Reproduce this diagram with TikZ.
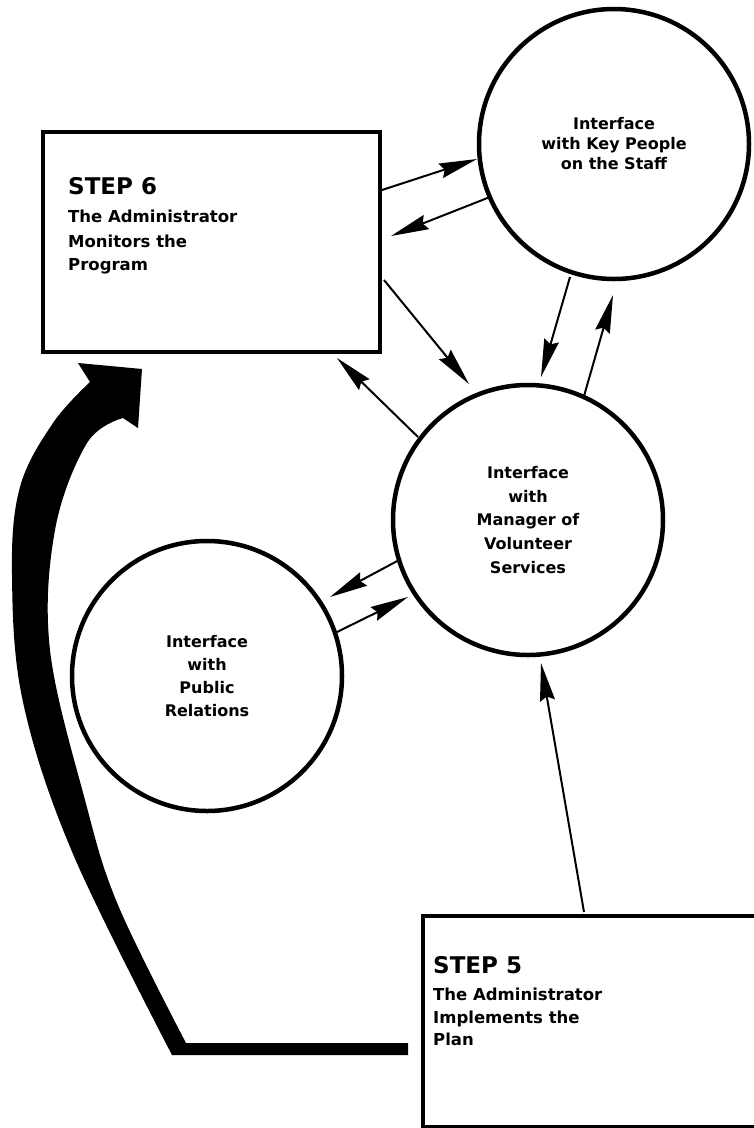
\documentclass[tikz,border=0pt]{standalone}
\usepackage{fontspec}
\setmainfont{DejaVu Sans}
\usetikzlibrary{arrows.meta,calc}
\begin{document}
\begin{tikzpicture}[x=1pt,y=-1pt,
  stepbox/.style={draw, line width=4pt, rectangle, anchor=north west, inner sep=0pt},
  bubble/.style={draw, circle, line width=4.5pt, minimum size=270pt, inner sep=0pt, align=center},
  link/.style={line width=2pt, -{Stealth[length=38pt,width=15pt,inset=4pt]}},
  headtext/.style={anchor=base west, inner sep=0pt, font=\fontsize{23}{28}\selectfont\bfseries},
  bodytext/.style={anchor=base west, inner sep=0pt, font=\fontsize{16.5}{24}\selectfont\bfseries}
]
\useasboundingbox (0,0) rectangle (753,1128);

% boxes
\node[stepbox, minimum width=337pt, minimum height=220pt] (s6) at (41,130) {};
\node[stepbox, minimum width=333pt, minimum height=211pt] (s5) at (421,914) {};

\node[headtext] (s6h) at (68,194) {STEP 6};
\node[bodytext] (s6a) at (68,222) {The Administrator};
\node[bodytext] (s6b) at (68,247) {Monitors the};
\node[bodytext] (s6c) at (68,270) {Program};

\node[headtext] (s5h) at (433,973) {STEP 5};
\node[bodytext] (s5a) at (433,1000) {The Administrator};
\node[bodytext] (s5b) at (433,1023) {Implements the};
\node[bodytext] (s5c) at (433,1045) {Plan};

% circles
\node[bubble, font=\fontsize{16}{20}\selectfont\bfseries] (kp) at (614,144)
  {Interface\\with Key People\\on the Staff};
\node[bubble, font=\fontsize{16}{23.7}\selectfont\bfseries] (mgr) at (528,520)
  {Interface\\with\\Manager of\\Volunteer\\Services};
\node[bubble, font=\fontsize{16}{23.3}\selectfont\bfseries] (pr) at (207,676)
  {Interface\\with\\Public\\Relations};

% thin arrows
\draw[link] ($(s6.north east)+(0,60)$) -- ($(kp)+(-137,15)$);
\draw[link] ($(kp)+(-124,53)$) -- ($(s6.north east)+(9,106)$);
\draw[link] ($(s6.north east)+(2,150)$) -- ($(mgr)+(-59,-136)$);
\draw[link] ($(mgr)+(-110,-83)$) -- ($(s6.north east)+(-45,228)$);
\draw[link] ($(kp)+(-44,133)$) -- ($(mgr)+(13,-143)$);
\draw[link] ($(mgr)+(56,-124)$) -- ($(kp)+(-1,151)$);
\draw[link] ($(mgr)+(-127,39)$) -- ($(pr)+(123,-79)$);
\draw[link] ($(pr)+(128,-43)$) -- ($(mgr)+(-120,77)$);
\draw[link] ($(s5.north west)+(163,-2)$) -- ($(mgr)+(13,143)$);

% thick return arrow from STEP 5 to STEP 6
\coordinate (tailtop) at ($(s5.north west)+(-13,129)$);
\coordinate (tailbot) at ($(s5.north west)+(-13,141)$);
\coordinate (tip) at ($(s6.south west)+(101,15)$);
\fill[black] (123,418) -- (138,428) -- (tip) -- (78,363) -- (90,382)
  -- plot[smooth, tension=0.6] coordinates {(90,382) (53,423) (20,487) (12,574) (23,702) (73,854) (172,1055)}
  -- (tailbot) -- (tailtop) -- (186,1043)
  -- plot[smooth, tension=0.6] coordinates {(186,1043) (118,905) (85,800) (50,650) (55,530) (87,443) (123,418)}
  -- cycle;
\end{tikzpicture}
\end{document}
